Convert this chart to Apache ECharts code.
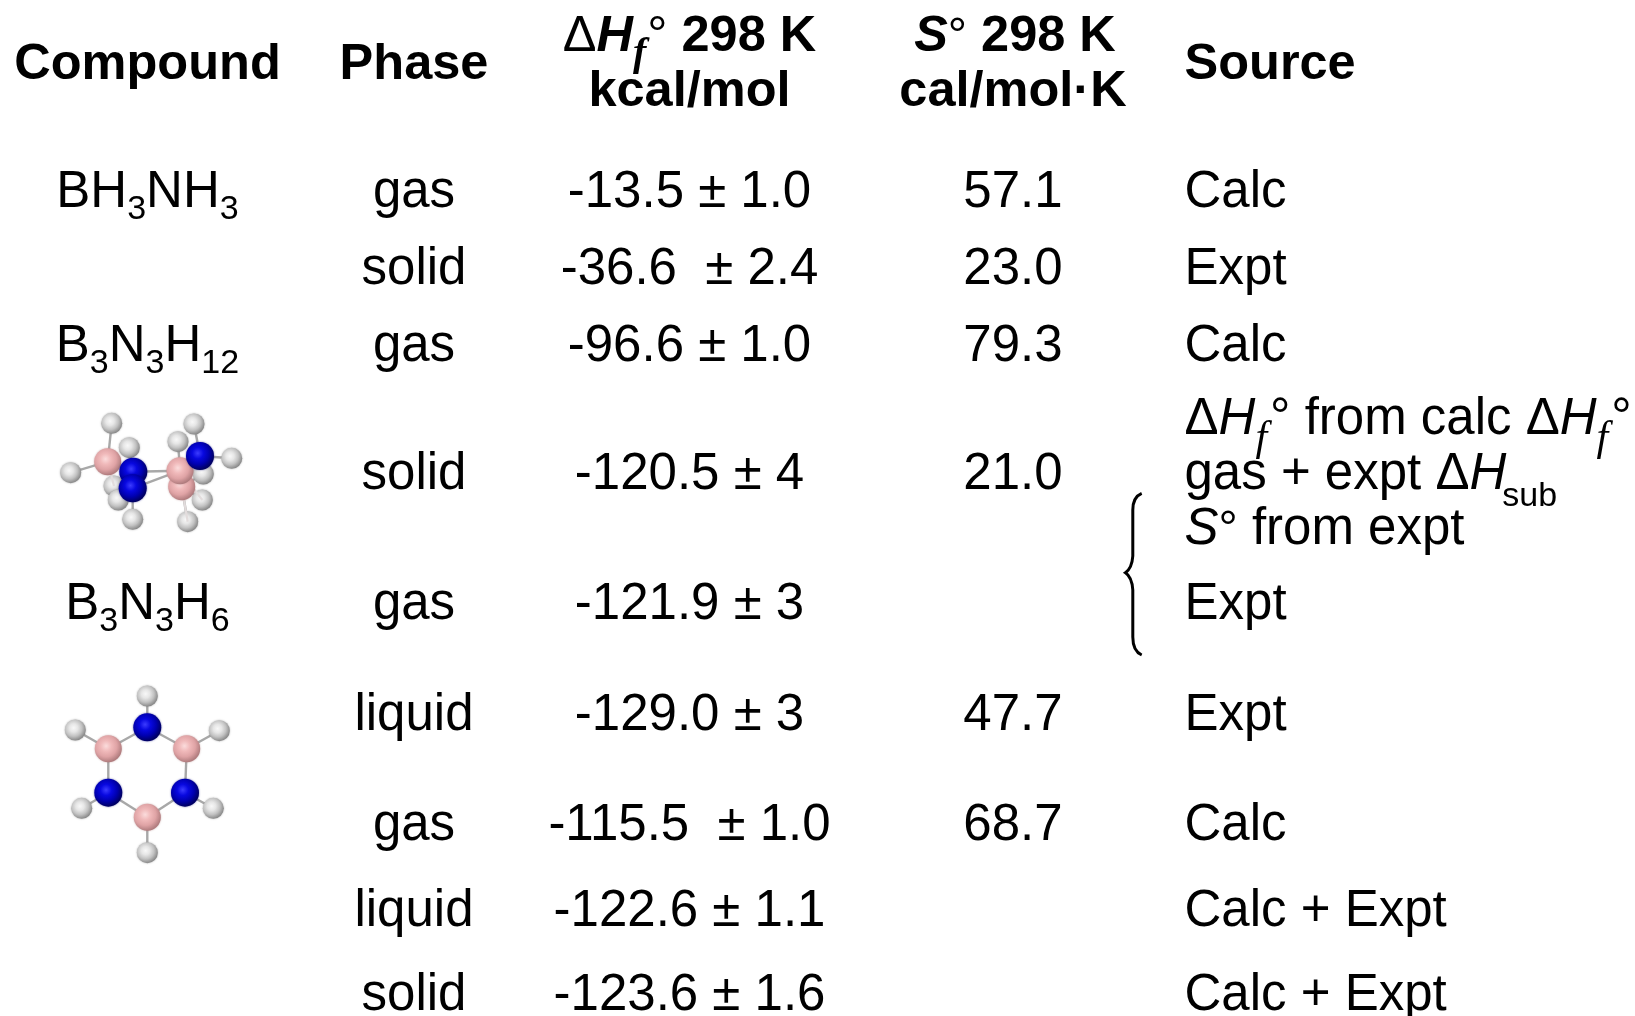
<!DOCTYPE html>
<html>
<head>
<meta charset="utf-8">
<style>html,body{margin:0;padding:0;background:#fff}#c{width:1635px;height:1016px}</style>
<script src="https://cdn.jsdelivr.net/npm/echarts@6/dist/echarts.min.js"></script>
</head>
<body>
<div id="c"></div>
<script>
// ---- table text ----
const headerCompound = ["Compound"];
const headerPhase = ["Phase"];
const headerEnthalpy = ["{bdeg|Δ}{bi|H}{bf|f}{bdeg|°} 298 K", "kcal/mol"];
const headerEntropy = ["{bi|S}{sdeg|°} 298 K", "cal/mol·K"];
const headerSource = ["Source"];
const compounds = ["BH{sub|3}NH{sub|3}", "", "B{sub|3}N{sub|3}H{sub|12}", "", "B{sub|3}N{sub|3}H{sub|6}", "", "", "", ""];
const phases = ["gas", "solid", "gas", "solid", "gas", "liquid", "gas", "liquid", "solid"];
const enthalpies = ["-13.5 ± 1.0", "-36.6  ± 2.4", "-96.6 ± 1.0", "-120.5 ± 4", "-121.9 ± 3", "-129.0 ± 3", "-115.5  ± 1.0", "-122.6 ± 1.1", "-123.6 ± 1.6"];
const entropies = ["57.1", "23.0", "79.3", "21.0", "", "47.7", "68.7", "", ""];
const sources = ["Calc", "Expt", "Calc", "", "Expt", "Expt", "Calc", "Calc + Expt", "Calc + Expt"];
const sourceNote = ["Δ{i|H}{f|f}{deg|°} from calc Δ{i|H}{f|f}{deg|°}", "gas + expt Δ{ih|H}{subw|sub}", "{i|S}{sdegn|°} from expt"];

// ---- molecule atoms (in axis units) ----
const hydrogenAtoms = [[111.7,423.3],[70.7,472.7],[129.3,447.7],[114,486],[118.3,500],[132.7,519.3],[178,441.7],[194,424],[231.7,458.3],[203.3,474],[202.3,500],[187.7,521.7],
  [147.3,696],[75.3,730],[219.3,730.7],[81.7,808.3],[213.3,808.3],[147.3,852.7]];
const boronAtoms = [[107.7,461.7],[181.7,486.7],[180,470.7],
  [108.3,748.7],[186.7,748.7],[147.3,817.3]];
const nitrogenAtoms = [[133.3,471.7],[132.7,488.3],[200,456],
  [147.3,727.3],[108.3,792.7],[185,792.7]];
const bondPairs = ["H0-B0","H1-B0","B0-N0","H2-N0","H3-N1","H4-N1","H5-N1","N0-B2","N1-B2","H6-B2","H7-N2","H8-N2","N2-B2","H9-B1","H10-B1","H11-B1","B1-B2",
  "H12-N3","N3-B3","N3-B4","H13-B3","H14-B4","B3-N4","B4-N5","N4-B5","N5-B5","H15-N4","H16-N5","B5-H17"];
const frontBondPairs = ["B0-H3","B2-H10","B1-H11"];
const bracePoints = [[1141.7,493.3],[1132.8,497],[1132.8,510],[1132.8,556],[1132,568],[1125.5,572.7],[1132,577],[1132.8,590],[1132.8,637],[1132.8,651],[1141.7,655]];

// ---- layout ----
const colX = {compound:147.5, phase:414, enthalpy:689.5, entropy:1013, entropyTop:1015, source:1184.5};
const rowBase = [207, 284, 360.5, 489, 619, 729.5, 840, 926, 1010];
const headerBase = {single:79, line1:51, line2:106};
const noteBase = [434, 488.5, 543.5];
const SANS = '"Liberation Sans", Arial, sans-serif', SERIF = '"Liberation Serif", serif';
const FS = 51, FSB = 50.5;
const runStyles = {
  n:    {},
  i:    {fontStyle:'italic'},
  ih:   {fontStyle:'italic', after:-4},
  f:    {fontStyle:'italic', family:SERIF, size:42, dy:16, after:3},
  deg:  {},
  sdegn:{size:48},
  sub:  {size:34, dy:12},
  subw: {size:34, dy:17},
  bi:   {fontStyle:'italic', weight:'bold'},
  bf:   {fontStyle:'italic', weight:'bold', family:SERIF, size:40, dy:14, after:1},
  bdeg: {weight:'normal'},
  sdeg: {weight:'normal', size:48}
};

const ctx = document.createElement('canvas').getContext('2d');
function fontOf(s){return (s.fontStyle||'normal')+' '+(s.weight||'normal')+' '+s.size+'px '+s.family;}
function parseRuns(text, base){
  const out=[]; const re=/\{(\w+)\|([^}]*)\}|([^{]+)/g; let m;
  while((m=re.exec(text))){
    const st=m[1]?runStyles[m[1]]:runStyles.n;
    out.push({t:m[1]?m[2]:m[3], s:Object.assign({size:base==='bold'?FSB:FS,family:SANS,weight:base,fontStyle:'normal',dy:0,after:0},st)});
  }
  return out;
}
function midOffset(font){
  ctx.font=font; ctx.textBaseline='alphabetic'; const a=ctx.measureText('H').actualBoundingBoxAscent;
  ctx.textBaseline='middle'; const b=ctx.measureText('H').actualBoundingBoxAscent;
  ctx.textBaseline='alphabetic'; return a-b;
}

// cells: [x, baseline, text, align, weight]
const cells=[];
function add(x,y,t,a,w){ if(t) cells.push([x,y,t,a,w]); }
add(colX.compound,headerBase.single,headerCompound[0],'c','bold');
add(colX.phase,headerBase.single,headerPhase[0],'c','bold');
add(colX.enthalpy,headerBase.line1,headerEnthalpy[0],'c','bold');
add(colX.enthalpy,headerBase.line2,headerEnthalpy[1],'c','bold');
add(colX.entropyTop,headerBase.line1,headerEntropy[0],'c','bold');
add(colX.entropy,headerBase.line2,headerEntropy[1],'c','bold');
add(colX.source,headerBase.single,headerSource[0],'l','bold');
rowBase.forEach((y,i)=>{
  add(colX.compound,y,compounds[i],'c','normal');
  add(colX.phase,y,phases[i],'c','normal');
  add(colX.enthalpy,y,enthalpies[i],'c','normal');
  add(colX.entropy,y,entropies[i],'c','normal');
  add(colX.source,y,sources[i],'l','normal');
});
sourceNote.forEach((t,i)=>add(colX.source,noteBase[i],t,'l','normal'));

function renderCell(params, api){
  const c=cells[params.dataIndex];
  const p=api.coord([api.value(0),api.value(1)]);
  const runs=parseRuns(c[2],c[4]);
  let w=0; runs.forEach(r=>{ctx.font=fontOf(r.s); r.w=ctx.measureText(r.t).width; w+=r.w+r.s.after;});
  let x=c[3]==='c'?p[0]-w/2:p[0];
  const children=[];
  runs.forEach(r=>{
    children.push({type:'text',x:x,y:p[1]+r.s.dy-midOffset(fontOf(r.s)),silent:true,
      style:{text:r.t,fontSize:r.s.size,fontFamily:r.s.family,fontWeight:r.s.weight,fontStyle:r.s.fontStyle,
        fill:'#000',align:'left',verticalAlign:'middle'}});
    x+=r.w+r.s.after;
  });
  return {type:'group',children:children};
}
function atomRef(k){const t=k[0],i=+k.slice(1);return (t==='H'?hydrogenAtoms:t==='B'?boronAtoms:nitrogenAtoms)[i];}
const toSegments=pairs=>pairs.map(s=>{const [a,b]=s.split('-');return atomRef(a).concat(atomRef(b));});
const bondRenderer=(stroke,width)=>function(params,api){
  const a=api.coord([api.value(0),api.value(1)]), b=api.coord([api.value(2),api.value(3)]);
  return {type:'line',shape:{x1:a[0],y1:a[1],x2:b[0],y2:b[1]},style:{stroke:stroke,lineWidth:width},silent:true};
};
function renderBrace(params,api){
  const pts=bracePoints.map(p=>api.coord(p));
  const segs=[['M',0],['Q',1,2],['L',3],['Q',4,5],['Q',6,7],['L',8],['Q',9,10]];
  const path=segs.map(s=>s[0]+s.slice(1).map(i=>pts[i][0]+' '+pts[i][1]).join(' ')).join('');
  return {type:'group',children:[{type:'path',x:0,y:0,shape:{pathData:path},
    style:{fill:'none',stroke:'#000',lineWidth:3},silent:true}]};
}
const grad=(stops)=>new echarts.graphic.RadialGradient(0.42,0.4,0.6,stops.map((c,i)=>({offset:i/(stops.length-1),color:c})));

const chart=echarts.init(document.getElementById('c'),null,{renderer:'canvas'});
chart.setOption({
  animation:false,
  backgroundColor:'#fff',
  grid:{left:0,right:0,top:0,bottom:0},
  xAxis:{type:'value',min:0,max:1635,show:false},
  yAxis:{type:'value',min:0,max:1016,inverse:true,show:false},
  series:[
    {type:'custom',name:'bonds',coordinateSystem:'cartesian2d',data:toSegments(bondPairs),renderItem:bondRenderer('#a8a8a8',2.4),z:1,clip:false,silent:true},
    {type:'scatter',name:'H',data:hydrogenAtoms,symbolSize:21,z:2,silent:true,itemStyle:{opacity:1,shadowBlur:2,shadowColor:'rgba(120,120,120,0.6)',color:grad(['#f8f8f8','#e6e6e6','#c2c2c2','#8a8a8a'])}},
    {type:'scatter',name:'B',data:boronAtoms,symbolSize:27,z:3,silent:true,itemStyle:{opacity:1,shadowBlur:2,shadowColor:'rgba(170,120,120,0.6)',color:grad(['#fbdcdc','#f0b9ba','#dfa3a5','#b07c7e'])}},
    {type:'custom',name:'frontBonds',coordinateSystem:'cartesian2d',data:toSegments(frontBondPairs),renderItem:bondRenderer('#e2dcdc',2.2),z:3,clip:false,silent:true},
    {type:'scatter',name:'N',data:nitrogenAtoms,symbolSize:28,z:4,silent:true,itemStyle:{opacity:1,shadowBlur:2,shadowColor:'rgba(0,0,120,0.6)',color:grad(['#3c3cff','#0808e0','#0000b0','#000060'])}},
    {type:'custom',name:'brace',coordinateSystem:'cartesian2d',data:[[0,0]],renderItem:renderBrace,z:5,clip:false,silent:true},
    {type:'custom',name:'table',coordinateSystem:'cartesian2d',data:cells.map(c=>[c[0],c[1]]),renderItem:renderCell,z:6,clip:false,silent:true}
  ]
});
</script>
</body>
</html>
